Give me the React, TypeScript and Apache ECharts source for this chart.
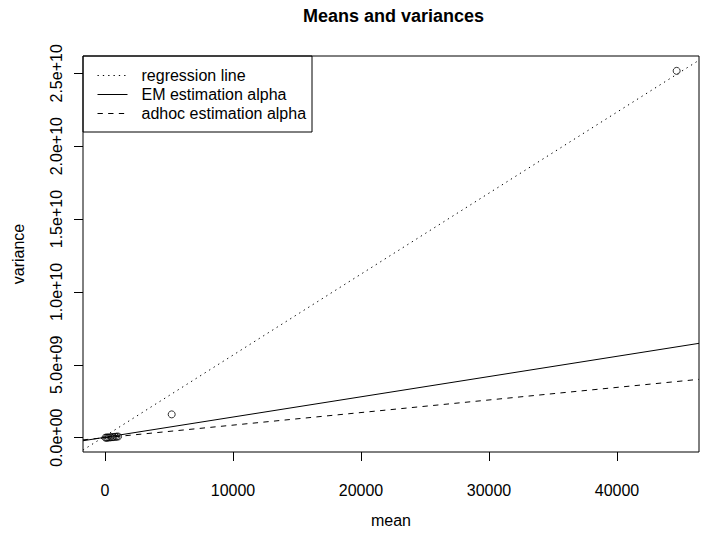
import React, { useEffect, useRef } from "react";
import * as echarts from "echarts";

const FONT = "'Liberation Sans', Arial, Helvetica, sans-serif";

// Observed points (mean, variance)
const pointMeans = [40, 120, 200, 300, 420, 540, 650, 780, 900, 1020, 5210, 44660];
const pointVariances = [1e6, 4e6, 8e6, 1.5e7, 2.5e7, 3.5e7, 4.5e7, 6e7, 7e7, 8e7, 1.6e9, 2.517e10];

// Axis extents and ticks
const xMin = -1718.75;
const xMax = 46406.25;
const yMin = -0.981e9;
const yMax = 2.619e10;
const xTicks = [0, 10000, 20000, 30000, 40000];
const xTickLabels = ["0", "10000", "20000", "30000", "40000"];
const yTicks = [0, 5e9, 1e10, 1.5e10, 2e10, 2.5e10];
const yTickLabels = ["0.0e+00", "5.0e+09", "1.0e+10", "1.5e+10", "2.0e+10", "2.5e+10"];

// Line endpoints (at left and right plot edges)
const lineX = [xMin, xMax];
const regressionY = [-0.847e9, 2.59e10];
const emY = [-0.21e9, 6.475e9];
const adhocY = [-0.148e9, 4.005e9];

const seriesNames = ["regression line", "EM estimation alpha", "adhoc estimation alpha"];

export default function App() {
  const ref = useRef<HTMLDivElement>(null);
  useEffect(() => {
    if (!ref.current) return;
    const chart = echarts.init(ref.current, undefined, { renderer: "svg" });
    const mkLine = (ys: number[]) => lineX.map((x, i) => [x, ys[i]]);
    const option: any = {
      animation: false,
      backgroundColor: "#fff",
      textStyle: { fontFamily: FONT, color: "#000" },
      title: {
        text: "Means and variances",
        left: 298,
        top: 2,
        textStyle: { fontFamily: FONT, fontSize: 18, fontWeight: "bold", color: "#000" },
      },
      grid: {
        left: 83,
        top: 56,
        width: 616,
        height: 396,
        show: false,
      },
      legend: {
        orient: "vertical",
        left: 97,
        top: 66,
        padding: 0,
        itemWidth: 30,
        itemHeight: 12,
        itemGap: 0,
        data: seriesNames,
        selectedMode: false,
        itemStyle: { color: "rgba(0,0,0,0)", borderWidth: 0, opacity: 0 },
        lineStyle: { width: 1 },
        textStyle: { fontFamily: FONT, fontSize: 16, lineHeight: 19, color: "#000", padding: [0, 0, 0, 9] },
      },
      xAxis: {
        type: "value",
        min: xMin,
        max: xMax,
        name: "mean",
        nameLocation: "middle",
        nameGap: 60,
        nameTextStyle: { fontFamily: FONT, fontSize: 16, color: "#000" },
        axisLine: { show: false, onZero: false },
        splitLine: { show: false },
        axisTick: { show: true, length: 9, customValues: xTicks, lineStyle: { color: "#000", width: 1 } },
        axisLabel: {
          customValues: xTicks,
          margin: 30,
          fontFamily: FONT,
          fontSize: 16,
          color: "#000",
          formatter: (v: number) => {
            const i = xTicks.indexOf(v);
            return i >= 0 ? xTickLabels[i] : "";
          },
        },
      },
      yAxis: {
        type: "value",
        min: yMin,
        max: yMax,
        name: "variance",
        nameLocation: "middle",
        nameGap: 57,
        nameRotate: 90,
        nameTextStyle: { fontFamily: FONT, fontSize: 16, color: "#000" },
        axisLine: { show: false, onZero: false },
        splitLine: { show: false },
        axisTick: { show: true, length: 9, customValues: yTicks, lineStyle: { color: "#000", width: 1 } },
        axisLabel: {
          customValues: yTicks,
          rotate: 90,
          margin: 19,
          fontFamily: FONT,
          fontSize: 16,
          color: "#000",
          formatter: (v: number) => {
            const i = yTicks.findIndex((t) => Math.abs(t - v) < 1);
            return i >= 0 ? yTickLabels[i] : "";
          },
        },
      },
      graphic: [
        {
          type: "rect",
          shape: { x: 83, y: 56, width: 616, height: 396 },
          style: { fill: "none", stroke: "#000", lineWidth: 1 },
          z: 10,
        },
        {
          type: "rect",
          shape: { x: 83, y: 56, width: 229, height: 76 },
          style: { fill: "none", stroke: "#000", lineWidth: 1 },
          z: 10,
        },
      ],
      series: [
        {
          name: "points",
          type: "scatter",
          data: pointMeans.map((m, i) => [m, pointVariances[i]]),
          symbol: "circle",
          symbolSize: 7,
          itemStyle: { color: "rgba(0,0,0,0)", borderColor: "#000", borderWidth: 1 },
          z: 5,
        },
        {
          name: seriesNames[0],
          type: "line",
          data: mkLine(regressionY),
          symbol: "none",
          lineStyle: { color: "#000", width: 1, type: [1.33, 4] },
          itemStyle: { color: "#000" },
        },
        {
          name: seriesNames[1],
          type: "line",
          data: mkLine(emY),
          symbol: "none",
          lineStyle: { color: "#000", width: 1, type: "solid" },
          itemStyle: { color: "#000" },
        },
        {
          name: seriesNames[2],
          type: "line",
          data: mkLine(adhocY),
          symbol: "none",
          lineStyle: { color: "#000", width: 1, type: [5.33, 5.33] },
          itemStyle: { color: "#000" },
        },
      ],
    };
    chart.setOption(option);
    return () => chart.dispose();
  }, []);
  return <div ref={ref} style={{ width: 701, height: 533, position: "absolute", left: 0, top: 0 }} />;
}
